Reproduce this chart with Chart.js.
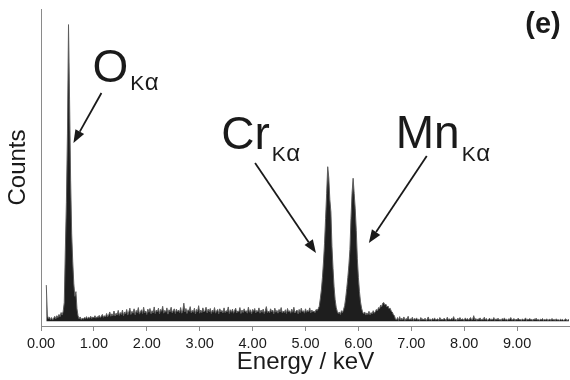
<!DOCTYPE html>
<html>
<head>
<meta charset="utf-8">
<script src="https://cdn.jsdelivr.net/npm/chart.js@4/dist/chart.umd.min.js"></script>
<style>
  html, body { margin: 0; padding: 0; background: #ffffff; }
  #c { display: block; }
</style>
</head>
<body>
<canvas id="c" width="570" height="380"></canvas>
<script>
// ---- Spectrum data (channel calibration + counts) ----
const startKeV = 0.10;   // energy of first channel
const stepKeV = 0.02;    // channel width
const counts = [
  // 0.10 - 0.58
  116, 20, 8, 14, 5, 12, 4, 10, 16, 8, 18, 12, 22, 15, 28, 20, 32, 60, 228, 380, 600, 950, 709, 452, 280,
  // 0.60 - 1.08
  190, 120, 80, 95, 40, 18, 8, 14, 6, 10, 7, 12, 9, 15, 8, 13, 10, 16, 9, 14, 11, 18, 10, 15, 12,
  // 1.10 - 1.58
  19, 12, 16, 22, 13, 18, 14, 25, 15, 20, 30, 16, 24, 18, 33, 17, 26, 20, 35, 19, 28, 22, 36, 18, 30,
  // 1.60 - 2.08
  24, 38, 20, 30, 42, 22, 32, 26, 40, 21, 35, 28, 44, 23, 31, 37, 25, 45, 27, 33, 22, 39, 29, 41, 24,
  // 2.10 - 2.58
  34, 27, 46, 25, 36, 30, 42, 24, 38, 32, 48, 26, 35, 29, 43, 23, 37, 31, 45, 27, 34, 40, 25, 39, 30,
  // 2.60 - 3.08
  36, 28, 44, 26, 33, 58, 30, 41, 25, 37, 32, 47, 27, 35, 29, 42, 24, 38, 31, 50, 26, 36, 28, 43, 30,
  // 3.10 - 3.58
  34, 45, 27, 39, 31, 41, 25, 36, 29, 44, 26, 33, 38, 24, 40, 30, 35, 27, 43, 28, 34, 31, 46, 25, 37,
  // 3.60 - 4.08
  29, 39, 26, 35, 42, 27, 33, 30, 44, 25, 36, 28, 40, 31, 34, 26, 45, 29, 37, 24, 38, 32, 41, 27, 35,
  // 4.10 - 4.58
  30, 43, 26, 36, 29, 39, 25, 34, 47, 28, 33, 27, 40, 31, 36, 24, 42, 29, 35, 26, 38, 30, 44, 27, 33,
  // 4.60 - 5.08
  28, 37, 25, 41, 30, 34, 26, 39, 29, 45, 27, 32, 36, 24, 38, 28, 42, 30, 34, 26, 40, 29, 35, 31, 43,
  // 5.10 - 5.58 (Cr K-alpha)
  27, 36, 30, 33, 28, 38, 35, 40, 48, 72, 100, 140, 190, 250, 330, 410, 495, 460, 390, 350, 240, 170, 110, 70, 45,
  // 5.60 - 6.08 (Mn K-alpha)
  32, 25, 30, 22, 34, 28, 38, 50, 75, 105, 140, 180, 230, 330, 410, 458, 410, 360, 290, 200, 140, 95, 62, 42, 30,
  // 6.10 - 6.58
  24, 30, 20, 27, 22, 32, 21, 28, 24, 34, 26, 31, 38, 33, 44, 40, 52, 47, 58, 60, 52, 55, 46, 49, 40,
  // 6.60 - 7.08
  42, 33, 30, 22, 18, 8, 4, 12, 3, 15, 4, 10, 5, 14, 3, 9, 6, 16, 4, 8, 5, 13, 3, 9, 6,
  // 7.10 - 7.58
  11, 4, 7, 3, 12, 5, 8, 4, 10, 3, 6, 14, 4, 7, 3, 9, 5, 11, 4, 6, 8, 3, 12, 5, 7,
  // 7.60 - 8.08
  4, 10, 6, 3, 13, 5, 8, 4, 9, 6, 15, 4, 7, 3, 10, 5, 12, 4, 8, 6, 3, 11, 5, 9, 4,
  // 8.10 - 8.58
  7, 12, 4, 6, 18, 5, 9, 3, 8, 6, 11, 4, 7, 5, 13, 4, 9, 3, 6, 10, 4, 7, 5, 12, 3,
  // 8.60 - 9.08
  8, 5, 10, 4, 6, 3, 9, 5, 11, 4, 7, 3, 8, 6, 12, 4, 5, 9, 3, 7, 4, 10, 5, 6, 3,
  // 9.10 - 9.58
  8, 4, 6, 11, 3, 7, 5, 9, 4, 6, 3, 8, 5, 10, 4, 6, 3, 7, 5, 9, 3, 6, 4, 8, 3,
  // 9.60 - 9.98
  5, 7, 3, 9, 4, 6, 3, 8, 4, 5, 3, 7, 4, 6, 3, 5, 8, 3, 4, 6
];

// axis settings
const xMin = 0, xMax = 10, xStep = 1, xLastLabel = 9;
const yMin = -15, yMax = 1000;
const xTitle = 'Energy / keV';
const yTitle = 'Counts';
const panelLabel = '(e)';

// peak annotations (data coordinates: keV, counts)
const peakLabels = [
  { main: 'O',  sub: 'Kα', x: 0.972, y: 766, drop: 8,  tailX: 1.142, tailY: 731, tipX: 0.613, tipY: 571 },
  { main: 'Cr', sub: 'Kα', x: 3.406, y: 552, drop: 12, tailX: 4.047, tailY: 507, tipX: 5.198, tipY: 219 },
  { main: 'Mn', sub: 'Kα', x: 6.707, y: 555, drop: 13, tailX: 7.292, tailY: 529, tipX: 6.198, tipY: 251 }
];

// ---- build the dataset from the arrays ----
const points = counts.map((c, i) => ({ x: +(startKeV + i * stepKeV).toFixed(2), y: c }));

const FONT = "'Liberation Sans', Arial, Helvetica, sans-serif";
const AXIS_GRAY = '#8a8a8a';
const TEXT = '#1a1a1a';

const annotationPlugin = {
  id: 'peakAnnotations',
  afterDatasetsDraw(chart) {
    const { ctx, scales: { x, y } } = chart;
    ctx.save();
    ctx.fillStyle = TEXT;
    ctx.strokeStyle = TEXT;
    ctx.textBaseline = 'alphabetic';
    ctx.textAlign = 'left';
    for (const a of peakLabels) {
      const px = x.getPixelForValue(a.x);
      const py = y.getPixelForValue(a.y);
      ctx.font = `46px ${FONT}`;
      ctx.fillText(a.main, px, py);
      const w = ctx.measureText(a.main).width;
      ctx.font = `21px ${FONT}`;
      const k = a.sub[0], al = a.sub.slice(1);
      ctx.fillText(k, px + w + 2, py + a.drop);
      const kw = ctx.measureText(k).width;
      ctx.font = `24px ${FONT}`;
      ctx.fillText(al, px + w + 2 + kw + 0.5, py + a.drop);

      // arrow
      const x0 = x.getPixelForValue(a.tailX), y0 = y.getPixelForValue(a.tailY);
      const x1 = x.getPixelForValue(a.tipX),  y1 = y.getPixelForValue(a.tipY);
      const ang = Math.atan2(y1 - y0, x1 - x0);
      const headLen = 13, headHalf = 5;
      const bx = x1 - headLen * Math.cos(ang), by = y1 - headLen * Math.sin(ang);
      ctx.lineWidth = 1.8;
      ctx.beginPath();
      ctx.moveTo(x0, y0);
      ctx.lineTo(bx, by);
      ctx.stroke();
      ctx.beginPath();
      ctx.moveTo(x1, y1);
      ctx.lineTo(bx + headHalf * Math.sin(ang), by - headHalf * Math.cos(ang));
      ctx.lineTo(bx - headHalf * Math.sin(ang), by + headHalf * Math.cos(ang));
      ctx.closePath();
      ctx.fill();
    }
    // panel label
    ctx.font = `bold 29px ${FONT}`;
    ctx.textAlign = 'center';
    ctx.textBaseline = 'middle';
    ctx.fillText(panelLabel, chart.width - 27, 25);
    ctx.restore();
  }
};

new Chart(document.getElementById('c'), {
  type: 'line',
  data: {
    datasets: [{
      data: points,
      borderColor: '#5c5c5c',
      borderWidth: 1,
      backgroundColor: '#1e1e1e',
      fill: 'origin',
      pointRadius: 0,
      tension: 0
    }]
  },
  options: {
    responsive: false,
    animation: false,
    devicePixelRatio: 1,
    layout: { padding: { top: 9, left: 0, right: 0, bottom: 0 } },
    plugins: { legend: { display: false }, tooltip: { enabled: false } },
    scales: {
      x: {
        type: 'linear',
        min: xMin, max: xMax,
        afterFit: s => { s.height = 54; },
        afterBuildTicks: s => { s.ticks = s.ticks.filter(t => t.value <= xLastLabel); },
        ticks: {
          stepSize: xStep,
          autoSkip: false,
          maxRotation: 0,
          padding: 4,
          color: TEXT,
          font: { family: FONT, size: 14.5 },
          callback: v => Number(v).toFixed(2)
        },
        grid: { display: true, drawOnChartArea: false, tickLength: 5, color: AXIS_GRAY },
        border: { display: true, color: AXIS_GRAY, width: 1 },
        title: { display: true, text: xTitle, color: TEXT, font: { family: FONT, size: 24 }, padding: { top: 0, bottom: 3 } }
      },
      y: {
        min: yMin, max: yMax,
        afterFit: s => { s.width = 41; },
        ticks: { display: false },
        grid: { display: false },
        border: { display: true, color: AXIS_GRAY, width: 1 },
        title: { display: true, text: yTitle, color: TEXT, font: { family: FONT, size: 24 }, padding: { top: 4, bottom: 0 } }
      }
    }
  },
  plugins: [annotationPlugin]
});
</script>
</body>
</html>
